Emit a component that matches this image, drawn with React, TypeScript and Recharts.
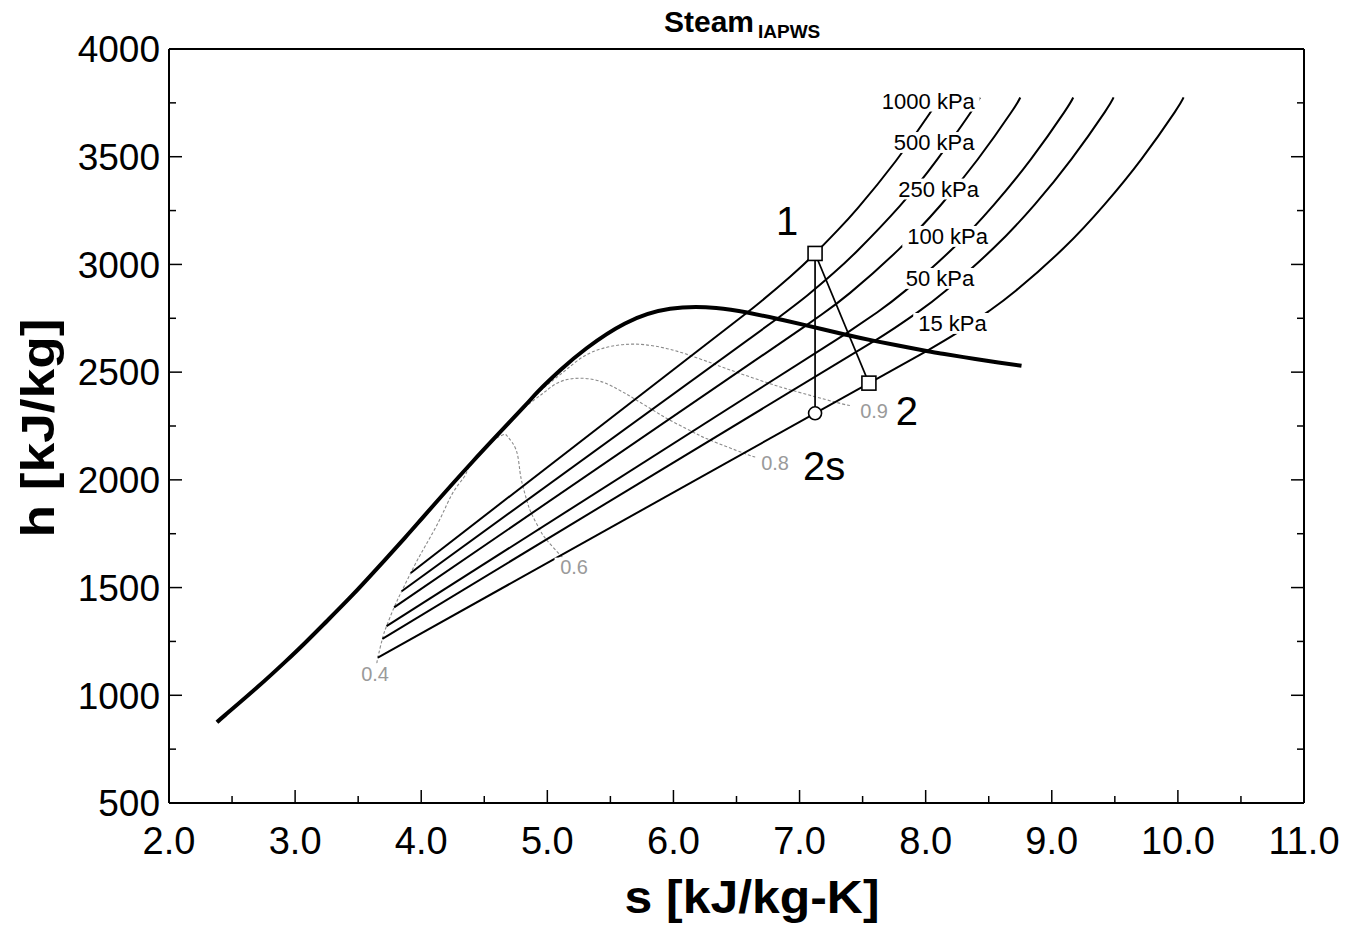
import React from "react";
import { ComposedChart, Line, XAxis, YAxis, ReferenceDot } from "recharts";

const FONT = '"Liberation Sans", Arial, Helvetica, sans-serif';
const W = 1337;
const H = 910;
const PAGE_H = 918;

// axis ticks, minor ticks every 0.5 kJ/kg-K and 250 kJ/kg
const S_TICKS = [2, 2.5, 3, 3.5, 4, 4.5, 5, 5.5, 6, 6.5, 7, 7.5, 8, 8.5, 9, 9.5, 10, 10.5, 11];
const H_TICKS = [500, 750, 1000, 1250, 1500, 1750, 2000, 2250, 2500, 2750, 3000, 3250, 3500, 3750, 4000];

// saturation dome
const DOME_S = [2.38, 2.447, 2.702, 2.921, 3.068, 3.253, 3.448, 3.66, 3.872, 4.015, 4.407, 4.81, 4.927, 5.104, 5.311, 5.616, 5.974, 6.339, 6.585, 6.821, 7.053, 7.359, 7.593, 8.007, 8.149, 8.394, 8.576, 8.76];
const DOME_H = [875, 909, 1038, 1155, 1237, 1345, 1461, 1595, 1732, 1827, 2084, 2336, 2411, 2510, 2611, 2726, 2794, 2798, 2777, 2748, 2717, 2675, 2645, 2598, 2584, 2561, 2545, 2530];

// isobars: first point on the x=0.4 line, second on the vapour dome, then superheated
const P1000_S = [3.917, 6.585, 6.694, 6.925, 7.123, 7.301, 7.465, 7.762, 8.029, 8.11];
const P1000_H = [1568, 2777, 2828, 2943, 3051, 3158, 3264, 3479, 3698, 3775];
const P500_S = [3.845, 6.821, 7.061, 7.272, 7.461, 7.796, 8.089, 8.354, 8.43];
const P500_H = [1483, 2748, 2856, 2961, 3065, 3272, 3485, 3703, 3775];
const P250_S = [3.785, 7.053, 7.17, 7.401, 7.789, 8.12, 8.412, 8.676, 8.75];
const P250_H = [1408, 2717, 2765, 2868, 3071, 3276, 3487, 3704, 3775];
const P100_S = [3.725, 7.359, 7.614, 7.835, 8.217, 8.544, 8.835, 9.098, 9.17];
const P100_H = [1321, 2675, 2777, 2876, 3075, 3279, 3489, 3706, 3775];
const P50_S = [3.692, 7.593, 7.695, 7.941, 8.159, 8.539, 8.866, 9.156, 9.419, 9.49];
const P50_H = [1262, 2645, 2682, 2780, 2878, 3076, 3279, 3489, 3706, 3775];
const P15_S = [3.656, 8.007, 8.261, 8.501, 8.717, 9.095, 9.421, 9.711, 9.974, 10.045];
const P15_H = [1175, 2598, 2687, 2783, 2879, 3076, 3280, 3489, 3706, 3775];

// lines of constant quality, from 10 kPa up to the critical point
const Q40_S = [3.649, 3.656, 3.692, 3.725, 3.785, 3.845, 3.917, 4.004, 4.142, 4.246, 4.336, 4.365, 4.38, 4.392, 4.407];
const Q40_H = [1149, 1175, 1262, 1321, 1408, 1483, 1568, 1664, 1810, 1935, 2010, 2043, 2061, 2068, 2084];
const Q60_S = [5.149, 5.106, 4.992, 4.937, 4.874, 4.837, 4.806, 4.782, 4.753, 4.689, 4.661, 4.612, 4.562, 4.533, 4.407];
const Q60_H = [1627, 1649, 1723, 1772, 1844, 1905, 1971, 2042, 2138, 2198, 2211, 2199, 2178, 2157, 2084];
const Q80_S = [6.649, 6.557, 6.293, 6.148, 5.963, 5.829, 5.696, 5.561, 5.364, 5.132, 4.986, 4.858, 4.744, 4.674, 4.407];
const Q80_H = [2106, 2124, 2184, 2224, 2280, 2327, 2374, 2420, 2466, 2462, 2411, 2354, 2295, 2247, 2084];
const Q90_S = [7.399, 7.282, 6.943, 6.753, 6.508, 6.325, 6.14, 5.95, 5.669, 5.354, 5.149, 4.981, 4.836, 4.745, 4.407];
const Q90_H = [2345, 2361, 2415, 2449, 2498, 2537, 2576, 2609, 2630, 2593, 2511, 2432, 2353, 2291, 2084];

// turbine states
const STATE_NAMES = ["1", "2s", "2"];
const STATE_S = [7.123, 7.123, 7.55];
const STATE_H = [3051, 2309, 2449];

const ISOBAR_LABELS = ["1000 kPa", "500 kPa", "250 kPa", "100 kPa", "50 kPa", "15 kPa"];
const ISOBAR_LABEL_S = [8.021, 8.067, 8.102, 8.174, 8.114, 8.213];
const ISOBAR_LABEL_H = [3758, 3566, 3350, 3130, 2935, 2726];

const QUALITY_LABELS = ["0.4", "0.6", "0.8", "0.9"];
const QUALITY_LABEL_S = [3.634, 5.212, 6.806, 7.591];
const QUALITY_LABEL_H = [1099, 1595, 2078, 2320];

const pts = (S: number[], Hs: number[]) => S.map((s, i) => ({ s, h: Hs[i] }));

const isobars = [
  pts(P1000_S, P1000_H),
  pts(P500_S, P500_H),
  pts(P250_S, P250_H),
  pts(P100_S, P100_H),
  pts(P50_S, P50_H),
  pts(P15_S, P15_H),
];
const qualities = [pts(Q40_S, Q40_H), pts(Q60_S, Q60_H), pts(Q80_S, Q80_H), pts(Q90_S, Q90_H)];
const dome = pts(DOME_S, DOME_H);
const states = STATE_NAMES.map((name, i) => ({ name, s: STATE_S[i], h: STATE_H[i] }));

// pixel offsets of the state labels from their markers
const STATE_LABEL_OFFSET: Record<string, [number, number]> = {
  "1": [-28, -33],
  "2": [38, 27],
  "2s": [9, 52],
};

const isMajorS = (v: number) => Math.abs(v - Math.round(v)) < 1e-6;
const isMajorH = (v: number) => v % 500 === 0;

function BottomTick(p: any) {
  const { x, y, payload } = p;
  const v = payload.value;
  const major = isMajorS(v);
  return (
    <g>
      <line x1={x} x2={x} y1={y} y2={y - (major ? 13 : 7)} stroke="#000" strokeWidth={1.5} />
      {major && (
        <text x={x} y={y + 51} textAnchor="middle" fontSize={38} fontFamily={FONT} fill="#000">
          {v.toFixed(1)}
        </text>
      )}
    </g>
  );
}

function TopTick(p: any) {
  const { x, y, payload } = p;
  const major = isMajorS(payload.value);
  return <line x1={x} x2={x} y1={y} y2={y + (major ? 13 : 7)} stroke="#000" strokeWidth={1.5} />;
}

function LeftTick(p: any) {
  const { x, y, payload } = p;
  const v = payload.value;
  const major = isMajorH(v);
  return (
    <g>
      <line x1={x} x2={x + (major ? 13 : 7)} y1={y} y2={y} stroke="#000" strokeWidth={1.5} />
      {major && (
        <text x={x - 9} y={y} dy="0.36em" textAnchor="end" fontSize={37} fontFamily={FONT} fill="#000">
          {v}
        </text>
      )}
    </g>
  );
}

function RightTick(p: any) {
  const { x, y, payload } = p;
  const major = isMajorH(payload.value);
  return <line x1={x} x2={x - (major ? 13 : 7)} y1={y} y2={y} stroke="#000" strokeWidth={1.5} />;
}

function Tag({ cx, cy, text, size, color, bg }: any) {
  const w = text.length * size * 0.55 + 6;
  const hh = size * 0.95;
  return (
    <g>
      {bg && <rect x={cx - w / 2} y={cy - hh / 2} width={w} height={hh} fill="#fff" />}
      <text x={cx} y={cy} dy="0.36em" textAnchor="middle" fontSize={size} fontFamily={FONT} fill={color}>
        {text}
      </text>
    </g>
  );
}

function StateMarker(p: any) {
  const { cx, cy, payload, index } = p;
  if (cx == null || cy == null) return <g key={index} />;
  if (payload.name === "2s") {
    return <circle key={index} cx={cx} cy={cy} r={6.5} fill="#fff" stroke="#000" strokeWidth={1.6} />;
  }
  return <rect key={index} x={cx - 7} y={cy - 7} width={14} height={14} fill="#fff" stroke="#000" strokeWidth={1.6} />;
}

export default function App() {
  return (
    <div style={{ position: "relative", width: W, height: PAGE_H, background: "#fff" }}>
      <ComposedChart width={W} height={H} margin={{ top: 40, right: 40, bottom: 0, left: 0 }}>
        <XAxis
          dataKey="s"
          type="number"
          domain={[2, 11]}
          ticks={S_TICKS}
          interval={0}
          allowDataOverflow
          height={115}
          tickSize={0}
          tickMargin={0}
          tickLine={false}
          axisLine={{ stroke: "#000", strokeWidth: 2 }}
          tick={(p: any) => <BottomTick {...p} />}
        />
        <XAxis
          xAxisId="top"
          orientation="top"
          type="number"
          domain={[2, 11]}
          ticks={S_TICKS}
          interval={0}
          allowDataOverflow
          height={1}
          tickSize={0}
          tickMargin={0}
          tickLine={false}
          axisLine={{ stroke: "#000", strokeWidth: 2 }}
          tick={(p: any) => <TopTick {...p} />}
        />
        <YAxis
          type="number"
          domain={[500, 4000]}
          ticks={H_TICKS}
          interval={0}
          allowDataOverflow
          width={161}
          tickSize={0}
          tickMargin={0}
          tickLine={false}
          axisLine={{ stroke: "#000", strokeWidth: 2 }}
          tick={(p: any) => <LeftTick {...p} />}
        />
        <YAxis
          yAxisId="right"
          orientation="right"
          type="number"
          domain={[500, 4000]}
          ticks={H_TICKS}
          interval={0}
          allowDataOverflow
          width={1}
          tickSize={0}
          tickMargin={0}
          tickLine={false}
          axisLine={{ stroke: "#000", strokeWidth: 2 }}
          tick={(p: any) => <RightTick {...p} />}
        />

        {qualities.map((q, i) => (
          <Line
            key={"q" + i}
            data={q}
            dataKey="h"
            type="natural"
            stroke="#8a8a8a"
            strokeWidth={1.1}
            strokeDasharray="3 2"
            dot={false}
            isAnimationActive={false}
          />
        ))}

        {isobars.map((p, i) => (
          <Line
            key={"wet" + i}
            data={p.slice(0, 2)}
            dataKey="h"
            type="linear"
            stroke="#000"
            strokeWidth={2}
            dot={false}
            isAnimationActive={false}
          />
        ))}
        {isobars.map((p, i) => (
          <Line
            key={"sup" + i}
            data={p.slice(1)}
            dataKey="h"
            type="natural"
            stroke="#000"
            strokeWidth={2}
            dot={false}
            isAnimationActive={false}
          />
        ))}

        <Line data={dome} dataKey="h" type="natural" stroke="#000" strokeWidth={4} dot={false} isAnimationActive={false} />

        <Line data={[states[0], states[1]]} dataKey="h" type="linear" stroke="#000" strokeWidth={1.7} dot={false} isAnimationActive={false} />
        <Line data={[states[0], states[2]]} dataKey="h" type="linear" stroke="#000" strokeWidth={1.7} dot={false} isAnimationActive={false} />
        <Line
          data={states}
          dataKey="h"
          type="linear"
          stroke="none"
          dot={(p: any) => <StateMarker {...p} />}
          activeDot={false}
          isAnimationActive={false}
        />

        {ISOBAR_LABELS.map((t, i) => (
          <ReferenceDot
            key={"il" + i}
            x={ISOBAR_LABEL_S[i]}
            y={ISOBAR_LABEL_H[i]}
            r={0}
            ifOverflow="visible"
            shape={(p: any) => <Tag cx={p.cx} cy={p.cy} text={t} size={22} color="#000" bg />}
          />
        ))}
        {QUALITY_LABELS.map((t, i) => (
          <ReferenceDot
            key={"ql" + i}
            x={QUALITY_LABEL_S[i]}
            y={QUALITY_LABEL_H[i]}
            r={0}
            ifOverflow="visible"
            shape={(p: any) => <Tag cx={p.cx} cy={p.cy} text={t} size={20} color="#9a9a9a" bg />}
          />
        ))}
        {states.map((st) => (
          <ReferenceDot
            key={"sl" + st.name}
            x={st.s}
            y={st.h}
            r={0}
            ifOverflow="visible"
            shape={(p: any) => (
              <Tag
                cx={p.cx + STATE_LABEL_OFFSET[st.name][0]}
                cy={p.cy + STATE_LABEL_OFFSET[st.name][1]}
                text={st.name}
                size={40}
                color="#000"
              />
            )}
          />
        ))}
      </ComposedChart>

      <svg width={W} height={PAGE_H} style={{ position: "absolute", left: 0, top: 0, pointerEvents: "none" }}>
        <text x={656} y={24} fontFamily={FONT} fontWeight="bold" fontSize={30} fill="#000">
          Steam
        </text>
        <text x={750} y={30} fontFamily={FONT} fontWeight="bold" fontSize={19} fill="#000">
          IAPWS
        </text>
        <text
          x={744}
          y={905}
          textAnchor="middle"
          fontFamily={FONT}
          fontWeight="bold"
          fontSize={46}
          textLength={255}
          lengthAdjust="spacingAndGlyphs"
          fill="#000"
        >
          s [kJ/kg-K]
        </text>
        <text
          x={46}
          y={420}
          textAnchor="middle"
          fontFamily={FONT}
          fontWeight="bold"
          fontSize={47}
          textLength={219}
          lengthAdjust="spacingAndGlyphs"
          fill="#000"
          transform="rotate(-90 46 420)"
        >
          h [kJ/kg]
        </text>
      </svg>
    </div>
  );
}
